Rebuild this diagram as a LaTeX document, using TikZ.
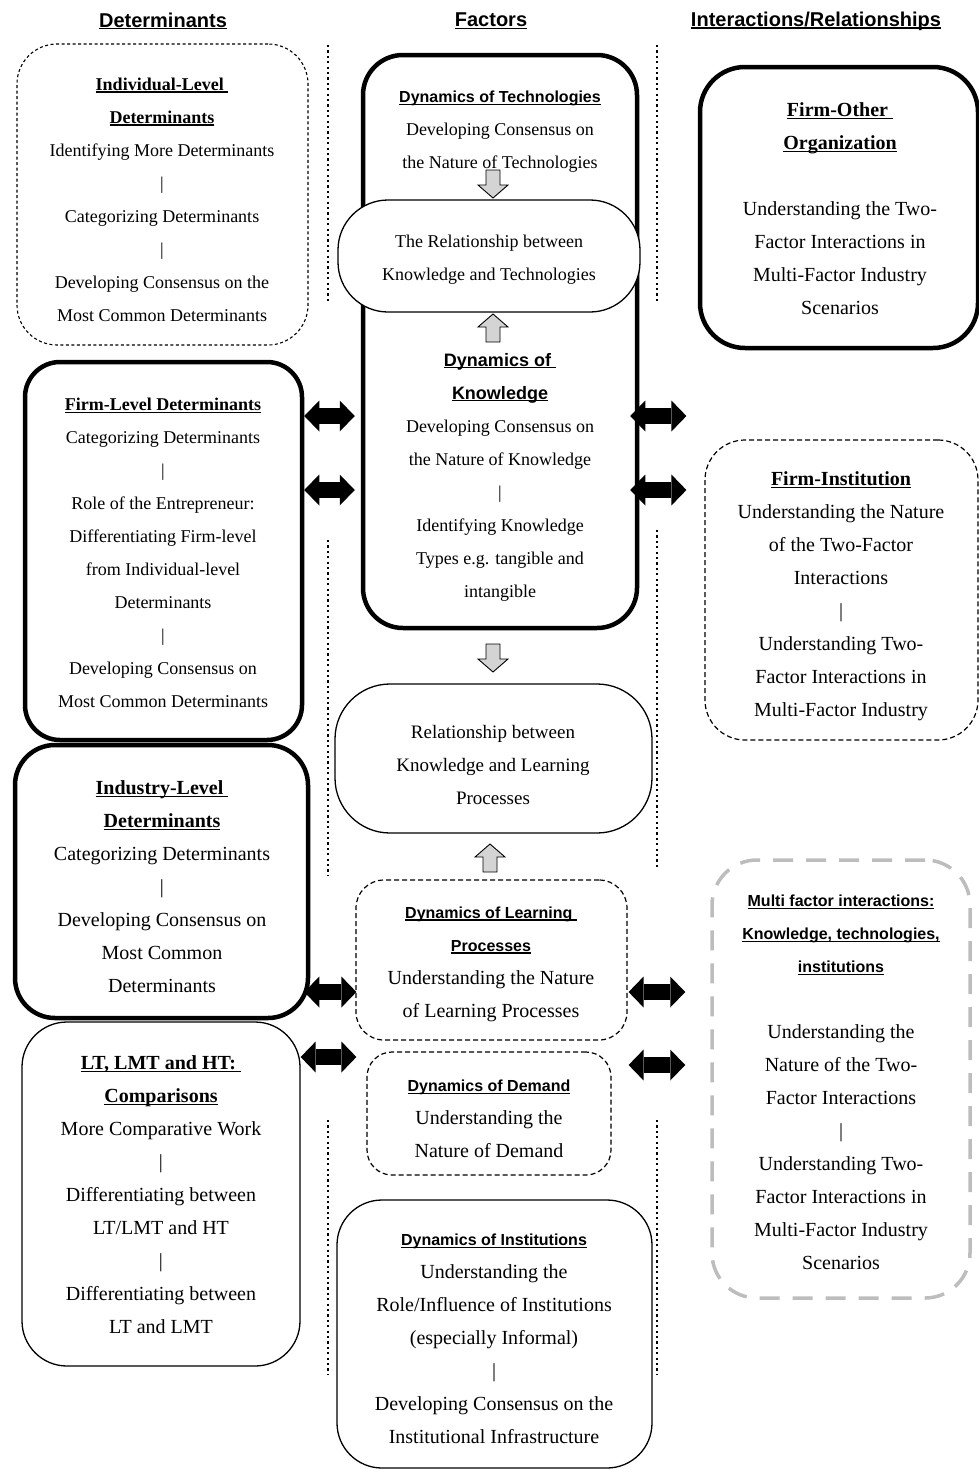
\documentclass[tikz,border=0pt]{standalone}
\usepackage{fontspec}
\setmainfont{Liberation Serif}
\setsansfont{Liberation Sans}
\usetikzlibrary{arrows.meta,calc}
\pgfdeclarelayer{bg}
\pgfsetlayers{bg,main}
\definecolor{mygray}{HTML}{BDBDBD}
\definecolor{arrgray}{HTML}{D4D4D4}
\newcommand\myul[1]{\leavevmode\setbox0=\hbox{#1}\rlap{\rule[-2.4pt]{\wd0}{1.1pt}}\box0}
\newcommand\sh[2]{{\fontsize{#1}{33}\selectfont\sffamily\bfseries\myul{#2}}}
\newcommand\bh[1]{{\bfseries\myul{#1}}}
\newcommand\fsz[1]{\fontsize{#1}{33}\selectfont}
\tikzset{
  thickbox/.style={draw, line width=4.5pt, inner sep=0pt},
  thinbox/.style={draw, line width=1.3pt, inner sep=0pt},
  dashbox/.style={draw, line width=1.2pt, dash pattern=on 5pt off 3pt, inner sep=0pt},
  finedash/.style={draw, line width=1.1pt, dash pattern=on 3pt off 2.5pt, inner sep=0pt},
  graydash/.style={draw=mygray, line width=3.5pt, dash pattern=on 20pt off 13pt, inner sep=0pt},
  txt/.style={align=center, inner sep=0pt, font=\fsz{#1}},
  txt/.default=18,
  blk/.style={line width=16pt,
    {Triangle[length=15pt,width=31pt,line width=0pt]}-{Triangle[length=15pt,width=31pt,line width=0pt]}},
  dotsep/.style={line width=2.2pt, dash pattern=on 2.2pt off 3.2pt},
  pics/grayarr/.style={code={\draw[fill=arrgray, line width=0.9pt, line join=miter]
    (-7,0) -- (7,0) -- (7,15) -- (15,15) -- (0,28) -- (-15,15) -- (-7,15) -- cycle;}}
}
\begin{document}
\begin{tikzpicture}[x=1pt,y=-1pt]
\useasboundingbox (0,0) rectangle (979,1470);

% column headers
\node[inner sep=0pt] (h1) at (163,21) {\sh{20}{Determinants}};
\node[inner sep=0pt] (h2) at (491,21) {\sh{20}{Factors}};
\node[inner sep=0pt] (h3) at (816,21) {\sh{20}{Interactions/Relationships}};

% dotted separators
\draw[dotsep] (328,45) -- (328,302);
\draw[dotsep] (328,540) -- (328,875);
\draw[dotsep] (328,1120) -- (328,1375);
\draw[dotsep] (657,45) -- (657,302);
\draw[dotsep] (657,530) -- (657,870);
\draw[dotsep] (657,1120) -- (657,1375);

% ---------- Determinants ----------
\node[finedash, rounded corners=40pt, minimum width=291pt, minimum height=301pt] (ind) at (162.5,194.5) {};
\node[txt=18] (indT) at (162,199.5) {\bh{Individual-Level }\\ \bh{Determinants}\\ Identifying More Determinants\\ |\\ Categorizing Determinants\\ |\\ Developing Consensus on the\\ Most Common Determinants};

\node[thickbox, rounded corners=35pt, minimum width=277pt, minimum height=378pt] (firm) at (163.5,551) {};
\node[txt=18] (firmT) at (163,553) {\bh{Firm-Level Determinants}\\ Categorizing Determinants\\ |\\ Role of the Entrepreneur:\\ Differentiating Firm-level\\ from Individual-level\\ Determinants\\ |\\ Developing Consensus on\\ Most Common Determinants};

\node[thickbox, rounded corners=40pt, minimum width=293pt, minimum height=273pt] (indus) at (161.5,881.5) {};
\node[txt=20] (indusT) at (162,887) {\bh{Industry-Level }\\ \bh{Determinants}\\ Categorizing Determinants\\ |\\ Developing Consensus on\\ Most Common\\ Determinants};

\node[thinbox, rounded corners=45pt, minimum width=278pt, minimum height=344pt] (lt) at (161,1194) {};
\node[txt=20] (ltT) at (161,1195) {\bh{LT, LMT and HT: }\\ \bh{Comparisons}\\ More Comparative Work\\ |\\ Differentiating between\\ LT/LMT and HT\\ |\\ Differentiating between\\ LT and LMT};

% ---------- Factors ----------
\node[thickbox, rounded corners=40pt, minimum width=274pt, minimum height=573pt] (tk) at (500,341.5) {};
\node[txt=18] (techT) at (500,132) {\sh{16}{Dynamics of Technologies}\\ Developing Consensus on\\ the Nature of Technologies};
\node[thinbox, fill=white, rounded corners=50pt, minimum width=302pt, minimum height=112pt] (reltech) at (489,256) {};
\node[txt=18] (reltechT) at (489,260) {The Relationship between\\ Knowledge and Technologies};
\node[txt=18] (knowT) at (500,477) {\sh{18}{Dynamics of }\\ \sh{18}{Knowledge}\\ Developing Consensus on\\ the Nature of Knowledge\\ |\\ Identifying Knowledge\\ Types e.g. tangible and\\ intangible};

\node[thinbox, rounded corners=55pt, minimum width=317pt, minimum height=149pt] (rellearn) at (493.5,758.5) {};
\node[txt=19] (rellearnT) at (493,764.5) {Relationship between\\ Knowledge and Learning\\ Processes};

\node[dashbox, rounded corners=28pt, minimum width=271pt, minimum height=160pt] (learn) at (491.5,960) {};
\node[txt=20] (learnT) at (491,964) {\sh{16}{Dynamics of Learning }\\ \sh{16}{Processes}\\ Understanding the Nature\\ of Learning Processes};

\node[dashbox, rounded corners=25pt, minimum width=244pt, minimum height=123pt] (demand) at (489,1113.5) {};
\node[txt=20] (demandT) at (489,1118.5) {\sh{16}{Dynamics of Demand}\\ Understanding the\\ Nature of Demand};

\node[thinbox, rounded corners=45pt, minimum width=315pt, minimum height=268pt] (inst) at (494.5,1334) {};
\node[txt=20] (instT) at (494,1338.5) {\sh{16}{Dynamics of Institutions}\\ Understanding the\\ Role/Influence of Institutions\\ (especially Informal)\\ |\\ Developing Consensus on the\\ Institutional Infrastructure};

% gray hollow arrows
\pic at (493,170) {grayarr};
\pic[rotate=180] at (493,342) {grayarr};
\pic at (493,644) {grayarr};
\pic[rotate=180] at (490,872) {grayarr};

% ---------- Interactions ----------
\node[thickbox, rounded corners=45pt, minimum width=278pt, minimum height=281pt] (fo) at (839,207.5) {};
\node[txt=20] (foT) at (840,209) {\bh{Firm-Other }\\ \bh{Organization}\\[33pt] Understanding the Two-\\ Factor Interactions in\\ Multi-Factor Industry\\ Scenarios};

\node[dashbox, rounded corners=40pt, minimum width=273pt, minimum height=300pt] (fi) at (841.5,590) {};
\node[txt=20] (fiT) at (841,596) {\bh{Firm-Institution}\\ Understanding the Nature\\ of the Two-Factor\\ Interactions\\ |\\ Understanding Two-\\ Factor Interactions in\\ Multi-Factor Industry};

\node[graydash, rounded corners=45pt, minimum width=258pt, minimum height=438pt] (multi) at (841,1079) {};
\node[txt=20] (multiT) at (841,1082) {\sh{16}{Multi factor interactions:}\\ \sh{16}{Knowledge, technologies,}\\ \sh{16}{institutions}\\[33pt] Understanding the\\ Nature of the Two-\\ Factor Interactions\\ |\\ Understanding Two-\\ Factor Interactions in\\ Multi-Factor Industry\\ Scenarios};

% ---------- block double arrows ----------
\begin{pgfonlayer}{bg}
\draw[blk] (firm.east |- 0,416) -- ($(tk.west |- 0,416)+(-6,0)$);
\draw[blk] (firm.east |- 0,490) -- ($(tk.west |- 0,490)+(-6,0)$);
\draw[blk] ($(tk.east |- 0,416)+(-9,0)$) -- ($(fi.west |- 0,416)+(-18,0)$);
\draw[blk] ($(tk.east |- 0,490)+(-9,0)$) -- ($(fi.west |- 0,490)+(-18,0)$);
\draw[blk] ($(indus.east |- 0,992)+(-6,0)$) -- ($(learn.west |- 0,992)+(1,0)$);
\draw[blk] (lt.east |- 0,1057) -- ($(demand.west |- 0,1057)+(-10,0)$);
\draw[blk] ($(learn.east |- 0,992)+(1,0)$) -- ($(multi.west |- 0,992)+(-25,0)$);
\draw[blk] ($(demand.east |- 0,1065)+(17,0)$) -- ($(multi.west |- 0,1065)+(-25,0)$);
\end{pgfonlayer}
\end{tikzpicture}
\end{document}
